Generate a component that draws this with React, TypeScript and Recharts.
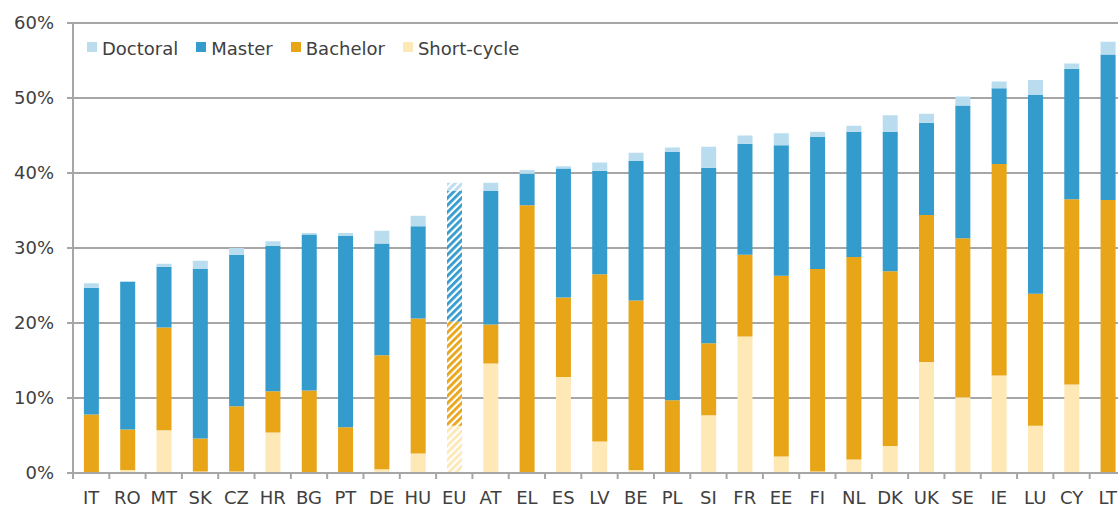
import { BarChart, Bar, XAxis, YAxis, CartesianGrid, Cell } from 'recharts'

// Tertiary attainment by level (% of population), EU marked with hatch
const countries = ['IT', 'RO', 'MT', 'SK', 'CZ', 'HR', 'BG', 'PT', 'DE', 'HU', 'EU', 'AT', 'EL', 'ES', 'LV', 'BE', 'PL', 'SI', 'FR', 'EE', 'FI', 'NL', 'DK', 'UK', 'SE', 'IE', 'LU', 'CY', 'LT']
const shortCycle = [0, 0.4, 5.7, 0.2, 0.2, 5.4, 0, 0, 0.5, 2.6, 6.3, 14.6, 0, 12.8, 4.2, 0.4, 0, 7.7, 18.2, 2.2, 0.2, 1.8, 3.6, 14.8, 10.1, 13.0, 6.3, 11.8, 0]
const bachelor = [7.8, 5.4, 13.7, 4.4, 8.7, 5.5, 11.0, 6.1, 15.2, 18.0, 13.9, 5.2, 35.7, 10.6, 22.3, 22.6, 9.7, 9.6, 10.9, 24.1, 27.0, 27.0, 23.3, 19.6, 21.2, 28.2, 17.6, 24.7, 36.4]
const master = [16.9, 19.7, 8.1, 22.6, 20.2, 19.4, 20.8, 25.5, 14.9, 12.3, 17.4, 17.8, 4.2, 17.2, 13.8, 18.6, 33.1, 23.4, 14.8, 17.4, 17.6, 16.7, 18.6, 12.3, 17.7, 10.1, 26.5, 17.4, 19.4]
const doctoral = [0.6, 0.1, 0.4, 1.1, 0.9, 0.6, 0.2, 0.4, 1.7, 1.4, 1.1, 1.1, 0.5, 0.3, 1.1, 1.1, 0.6, 2.8, 1.1, 1.6, 0.7, 0.8, 2.2, 1.2, 1.2, 0.9, 2.0, 0.7, 1.7]
const yTicks = [0, 10, 20, 30, 40, 50, 60]

// stacking order bottom -> top
const series = [
  { key: 'short', name: 'Short-cycle', color: '#fde8b6' },
  { key: 'bachelor', name: 'Bachelor', color: '#e8a517' },
  { key: 'master', name: 'Master', color: '#349bcd' },
  { key: 'doctoral', name: 'Doctoral', color: '#b9dcef' },
]
const hatched = 'EU'

const data = countries.map((c, i) => ({
  country: c,
  short: shortCycle[i],
  bachelor: bachelor[i],
  master: master[i],
  doctoral: doctoral[i],
}))

const FONT = '"DejaVu Sans", Verdana, sans-serif'
const GRID = '#a6a6a6'
const TEXT = '#404040'

function CountryTick(props: any) {
  const { x, y, payload } = props
  const half = payload.offset ?? 0
  return (
    <g>
      <line x1={x - half} x2={x - half} y1={y - 8} y2={y - 2} stroke={GRID} strokeWidth={2} />
      <text x={x} y={y + 23} textAnchor="middle" fill={TEXT} fontSize={18} fontFamily={FONT}>
        {payload.value}
      </text>
    </g>
  )
}

function LegendBox() {
  return (
    <div style={{
      position: 'absolute', left: 87, top: 37.6, display: 'flex',
      fontFamily: FONT, fontSize: 18, lineHeight: '21px', color: TEXT,
    }}>
      {[...series].reverse().map(s => (
        <div key={s.key} style={{ display: 'flex', marginRight: 18 }}>
          <span style={{ width: 10, height: 10, marginTop: 4, marginRight: 5, background: s.color, display: 'inline-block' }} />
          <span>{s.name}</span>
        </div>
      ))}
    </div>
  )
}

export default function App() {
  return (
    <div style={{ position: 'absolute', left: 0, top: 0, width: 1118, height: 507, overflow: 'hidden', background: '#fff' }}>
      <BarChart width={1126} height={507} data={data} margin={{ top: 23, right: 0, bottom: 0, left: 0 }} barCategoryGap="30%">
        <defs>
          {series.map(s => (
            <pattern key={s.key} id={`hatch-${s.key}`} width={5} height={5} patternUnits="userSpaceOnUse" patternTransform="rotate(45)">
              <rect width={5} height={5} fill="#ffffff" />
              <rect width={2.8} height={5} fill={s.color} />
            </pattern>
          ))}
        </defs>
        <CartesianGrid vertical={false} stroke={GRID} strokeWidth={2} />
        <XAxis
          dataKey="country"
          height={34}
          interval={0}
          tickSize={6}
          tickMargin={2}
          axisLine={{ stroke: GRID, strokeWidth: 2 }}
          tickLine={false}
          tick={<CountryTick />}
        />
        <YAxis
          width={73}
          domain={[0, 60]}
          ticks={yTicks}
          interval={0}
          tickFormatter={(v) => `${v}%`}
          tickSize={6}
          tickMargin={13}
          axisLine={{ stroke: GRID, strokeWidth: 2 }}
          tickLine={{ stroke: GRID, strokeWidth: 2 }}
          tick={{ fill: TEXT, fontSize: 18, fontFamily: FONT }}
        />
        {series.map(s => (
          <Bar key={s.key} dataKey={s.key} name={s.name} stackId="a" fill={s.color} isAnimationActive={false}>
            {data.map(d => (
              <Cell key={d.country} fill={d.country === hatched ? `url(#hatch-${s.key})` : s.color} />
            ))}
          </Bar>
        ))}
      </BarChart>
      <LegendBox />
    </div>
  )
}
